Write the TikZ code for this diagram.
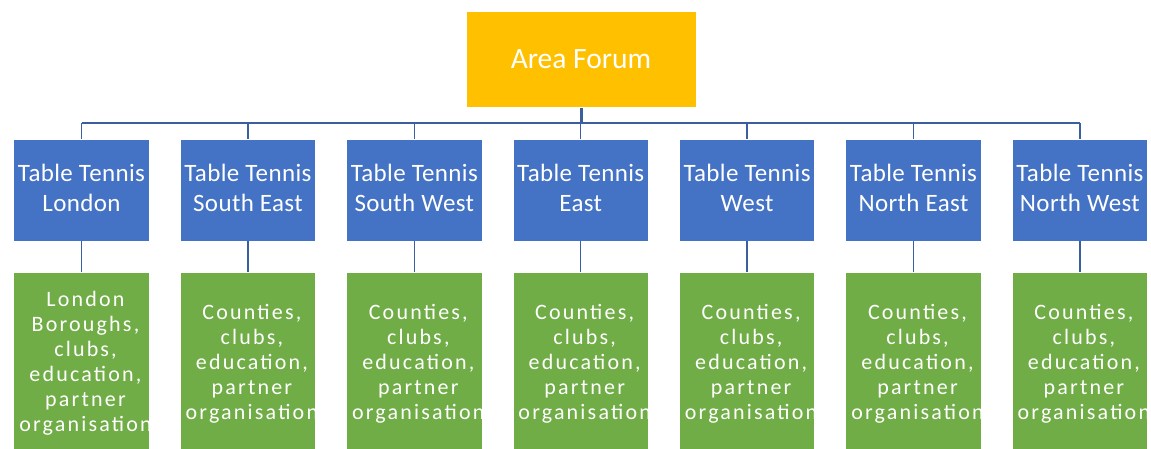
\documentclass[tikz,border=0pt]{standalone}
\usepackage{fontspec}
\setmainfont{Carlito}
\newfontfamily\regionfont[LetterSpace=1.5]{Carlito}
\newfontfamily\memberfont[LetterSpace=10]{Carlito}
\definecolor{areagold}{HTML}{FFC000}
\definecolor{regionblue}{HTML}{4472C4}
\definecolor{membergreen}{HTML}{70AD47}
\definecolor{linkblue}{HTML}{3A5E9E}
\begin{document}
\begin{tikzpicture}[x=1pt,y=-1pt,
  box/.style={draw=white, line width=0.8pt, inner sep=0pt, text=white, align=center},
  forumbox/.style={box, fill=areagold, minimum width=230pt, minimum height=96.5pt,
    font=\fontsize{29.5}{36}\selectfont},
  regionbox/.style={box, fill=regionblue, minimum width=135.5pt, minimum height=101.7pt},
  regiontext/.style={text=white, align=center, inner sep=0pt,
    font=\regionfont\fontsize{25}{30}\selectfont},
  memberbox/.style={box, fill=membergreen, minimum width=135.5pt, minimum height=181.3pt},
  membertext/.style={text=white, align=center, inner sep=0pt,
    font=\memberfont\fontsize{22}{25}\selectfont},
  link/.style={draw=linkblue, line width=1.5pt}]
\useasboundingbox (0,0) rectangle (1151,448);
\clip (0,0) rectangle (1151,448);

% top level
\node[forumbox] (forum) at (581,59.3) {Area Forum};
\coordinate (bus) at (581,123);

% regional associations and their members
\foreach \i/\name/\members in {
  1/{Table Tennis\\London}/{London\\Boroughs,\\clubs,\\education,\\partner\\organisation},
  2/{Table Tennis\\South East}/{Counties,\\clubs,\\education,\\partner\\organisation},
  3/{Table Tennis\\South West}/{Counties,\\clubs,\\education,\\partner\\organisation},
  4/{Table Tennis\\East}/{Counties,\\clubs,\\education,\\partner\\organisation},
  5/{Table Tennis\\West}/{Counties,\\clubs,\\education,\\partner\\organisation},
  6/{Table Tennis\\North East}/{Counties,\\clubs,\\education,\\partner\\organisation},
  7/{Table Tennis\\North West}/{Counties,\\clubs,\\education,\\partner\\organisation}} {
  \pgfmathsetmacro{\cx}{81.5+166.4*(\i-1)}
  \node[regionbox] (r\i) at (\cx,190.2) {};
  \node[regiontext] (n\i) at ([yshift=2pt]r\i.center) {\name};
  \node[memberbox] (g\i) at (\cx,363.4) {};
  \begin{scope}
    \clip (g\i.north west) rectangle (g\i.south east);
    \node[membertext] (t\i) at ([xshift=4pt]g\i.center) {\members};
  \end{scope}
}

% connectors
\draw[link, line width=3pt] (forum.south) -- (bus);
\draw[link] (r1.north |- bus) -- (r7.north |- bus);
\foreach \i in {1,...,7} {
  \draw[link] (r\i.north |- bus) -- (r\i.north);
  \draw[link] (r\i.south) -- (g\i.north);
}
\end{tikzpicture}
\end{document}
